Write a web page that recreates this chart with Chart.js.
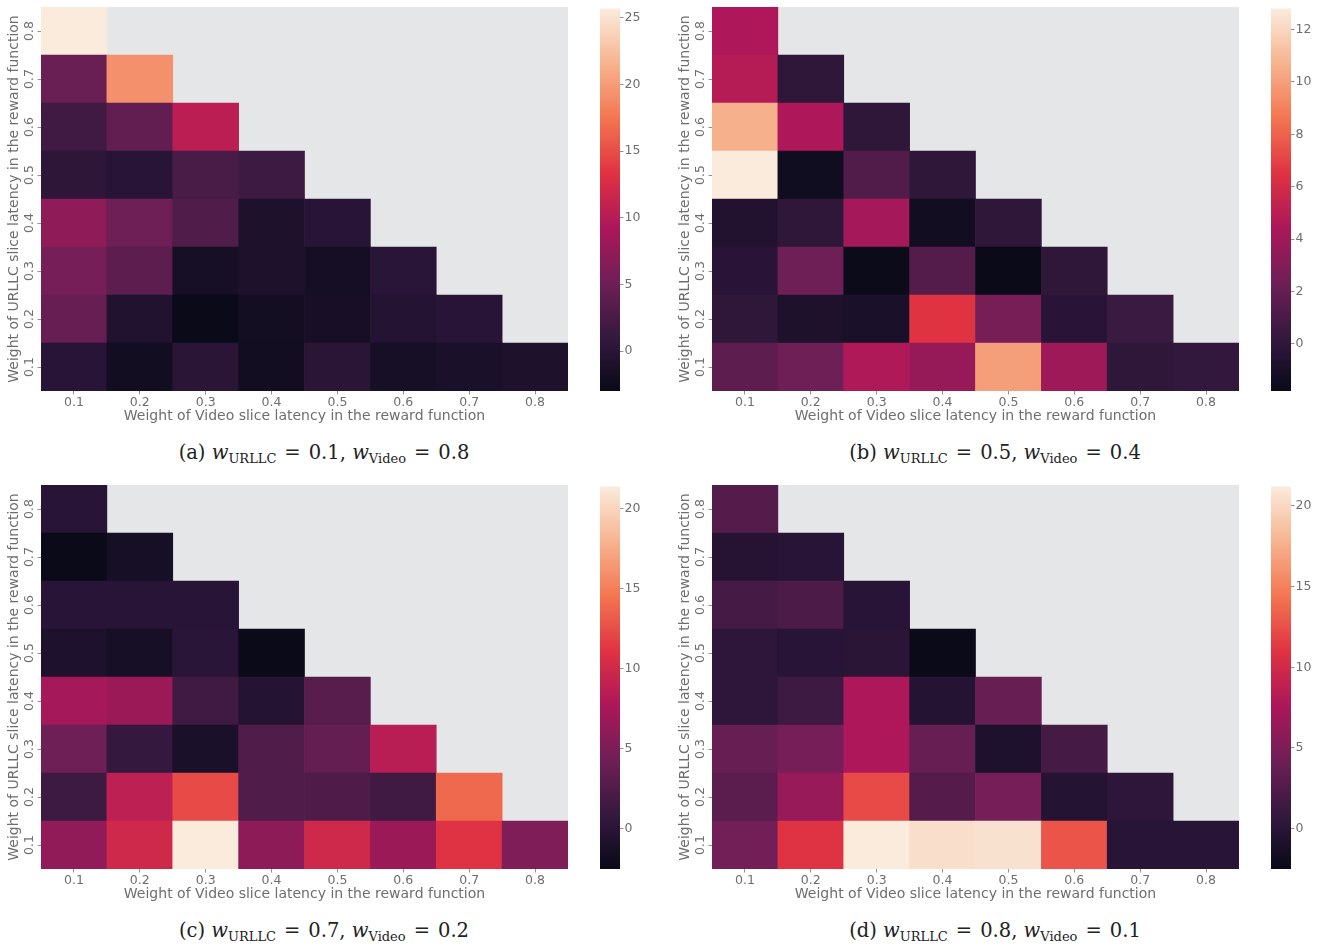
<!DOCTYPE html>
<html>
<head>
<meta charset="utf-8">
<script src="https://cdn.jsdelivr.net/npm/chart.js@4.4.1/dist/chart.umd.min.js"></script>
<style>
  body { margin: 0; background: #fff; width: 1325px; height: 948px; position: relative; overflow: hidden; }
  canvas { position: absolute; }
  .cap { position: absolute; font-family: "DejaVu Serif", "Liberation Serif", serif; font-size: 19.5px; color: #222;
         transform: translate(-50%, -50%); white-space: nowrap; }
  .cap sub { font-size: 13px; vertical-align: -4px; }
  .cap .eq { margin: 0 8px; }
</style>
</head>
<body>
<canvas id="heatA" width="590" height="430" style="left:0;top:0"></canvas>
<canvas id="cbA" width="70" height="430" style="left:590px;top:0"></canvas>
<canvas id="heatB" width="590" height="430" style="left:671px;top:0"></canvas>
<canvas id="cbB" width="70" height="430" style="left:1261px;top:0"></canvas>
<canvas id="heatC" width="590" height="430" style="left:0;top:478px"></canvas>
<canvas id="cbC" width="70" height="430" style="left:590px;top:478px"></canvas>
<canvas id="heatD" width="590" height="430" style="left:671px;top:478px"></canvas>
<canvas id="cbD" width="70" height="430" style="left:1261px;top:478px"></canvas>

<div class="cap" style="left:324px;top:453px">(a) <i>w</i><sub>URLLC</sub><span class="eq">=</span>0.1, <i>w</i><sub>Video</sub><span class="eq">=</span>0.8</div>
<div class="cap" style="left:995px;top:453px">(b) <i>w</i><sub>URLLC</sub><span class="eq">=</span>0.5, <i>w</i><sub>Video</sub><span class="eq">=</span>0.4</div>
<div class="cap" style="left:324px;top:931px">(c) <i>w</i><sub>URLLC</sub><span class="eq">=</span>0.7, <i>w</i><sub>Video</sub><span class="eq">=</span>0.2</div>
<div class="cap" style="left:995px;top:931px">(d) <i>w</i><sub>URLLC</sub><span class="eq">=</span>0.8, <i>w</i><sub>Video</sub><span class="eq">=</span>0.1</div>

<script>
const xLabels = ['0.1', '0.2', '0.3', '0.4', '0.5', '0.6', '0.7', '0.8'];
const yLabels = ['0.1', '0.2', '0.3', '0.4', '0.5', '0.6', '0.7', '0.8'];

// one row per URLLC weight, from 0.1 (bottom) up to 0.8 (top)
// rows get shorter because the upper triangle is masked
const panelA = [
    [-0.1, -2.0, 0.1, -2.1, 0.1, -1.7, -1.3, -1.0],
    [4.5, -0.7, -3.0, -1.9, -1.5, -0.4, -0.1],
    [5.6, 3.9, -1.6, -1.0, -1.8, 0.0],
    [7.3, 5.0, 3.0, -1.0, -0.1],
    [0.4, -0.1, 2.5, 1.6],
    [1.9, 4.2, 10.3],
    [4.7, 19.3],
    [25.7]
];
const panelB = [
    [1.7, 2.3, 4.6, 3.7, 10.0, 3.9, 0.0, 0.1],
    [0.0, -0.8, -0.9, 6.5, 2.6, -0.3, 0.5],
    [-0.3, 2.3, -1.7, 1.4, -1.8, 0.0],
    [-0.6, 0.0, 4.2, -1.3, 0.0],
    [12.8, -1.4, 1.3, 0.0],
    [10.6, 4.5, 0.0],
    [4.8, 0.0],
    [4.5]
];
const panelC = [
    [6.2, 9.9, 21.4, 5.9, 9.9, 6.8, 11.0, 5.2],
    [1.3, 8.8, 12.3, 2.5, 2.4, 1.6, 13.9],
    [4.2, 0.8, -1.1, 2.5, 3.7, 8.5],
    [7.3, 6.8, 1.6, -0.4, 3.0],
    [-0.8, -1.3, 0.0, -2.4],
    [-0.1, -0.1, -0.1],
    [-2.5, -1.3],
    [-0.1]
];
const panelD = [
    [4.4, 10.9, 21.2, 20.4, 20.6, 12.7, -0.1, -0.1],
    [3.0, 6.5, 12.2, 2.7, 4.6, -0.4, 0.3],
    [3.7, 4.6, 7.7, 3.7, -0.8, 1.8],
    [0.3, 1.3, 7.7, -0.4, 3.7],
    [0.3, -0.1, 0.0, -2.5],
    [1.8, 2.2, -0.1],
    [-0.25, -0.1],
    [2.7]
];

const cbTicksA = [0, 5, 10, 15, 20, 25];
const cbTicksB = [0, 2, 4, 6, 8, 10, 12];
const cbTicksC = [0, 5, 10, 15, 20];
const cbTicksD = [0, 5, 10, 15, 20];

const textGray = '#6e6e6e';
const tickGray = '#777';
const maskGray = '#e5e6e8';

// seaborn "rocket" colormap, a few stops
const rocketStops = [
    [0.0, [10, 10, 24]],
    [0.05, [23, 15, 38]],
    [0.1, [40, 20, 54]],
    [0.143, [53, 25, 62]],
    [0.286, [112, 31, 87]],
    [0.429, [173, 23, 89]],
    [0.571, [225, 51, 66]],
    [0.714, [243, 118, 81]],
    [0.857, [246, 180, 143]],
    [1.0, [250, 235, 221]]
];

function rocket(t) {
    t = Math.max(0, Math.min(1, t));
    for (let k = 1; k < rocketStops.length; k++) {
        const [t1, c1] = rocketStops[k];
        if (t <= t1) {
            const [t0, c0] = rocketStops[k - 1];
            const f = (t - t0) / (t1 - t0);
            const c = c0.map((v, i) => Math.round(v + (c1[i] - v) * f));
            return `rgb(${c[0]},${c[1]},${c[2]})`;
        }
    }
    return 'rgb(250,235,221)';
}

Chart.defaults.font.family = '"DejaVu Sans", sans-serif';
Chart.defaults.color = textGray;
Chart.defaults.animation = false;

const areaBg = {
    id: 'areaBg',
    beforeDraw(chart) {
        const { ctx, chartArea: a } = chart;
        ctx.save();
        ctx.fillStyle = maskGray;
        ctx.fillRect(a.left, a.top, a.right - a.left, a.bottom - a.top);
        ctx.restore();
    }
};

const gradientBar = {
    id: 'gradientBar',
    beforeDraw(chart) {
        const { ctx, chartArea: a } = chart;
        const g = ctx.createLinearGradient(0, a.bottom, 0, a.top);
        rocketStops.forEach(([t]) => g.addColorStop(t, rocket(t)));
        ctx.save();
        ctx.fillStyle = g;
        ctx.fillRect(a.left, a.top, a.right - a.left, a.bottom - a.top);
        ctx.restore();
    }
};

function tickGrid() {
    return {
        display: true,
        drawOnChartArea: false,
        drawTicks: true,
        tickLength: 3.5,
        tickWidth: 0.8,
        tickColor: tickGray,
        offset: false
    };
}

function drawHeatmap(id, rows) {
    const all = rows.flat();
    const vmin = Math.min(...all);
    const vmax = Math.max(...all);

    const datasets = rows.map((row, j) => ({
        data: xLabels.map((_, i) => i < row.length ? [j + 0.5, j + 1.5] : null),
        backgroundColor: xLabels.map((_, i) => i < row.length ? rocket((row[i] - vmin) / (vmax - vmin)) : 'rgba(0,0,0,0)'),
        borderWidth: 0,
        grouped: false,
        barPercentage: 1,
        categoryPercentage: 1
    }));

    new Chart(document.getElementById(id), {
        type: 'bar',
        data: { labels: xLabels, datasets: datasets },
        options: {
            responsive: false,
            layout: { padding: { left: 0, right: 22, top: 7, bottom: 0 } },
            plugins: { legend: { display: false }, tooltip: { enabled: false } },
            scales: {
                x: {
                    grid: tickGrid(),
                    border: { display: false },
                    ticks: { font: { size: 12.5 }, color: textGray, padding: 1, maxRotation: 0 },
                    title: {
                        display: true,
                        text: 'Weight of Video slice latency in the reward function',
                        font: { size: 14 },
                        color: textGray,
                        padding: { top: 0, bottom: 5 }
                    },
                    afterFit: s => { s.height = 39; }
                },
                y: {
                    type: 'linear',
                    min: 0.5,
                    max: 8.5,
                    afterBuildTicks: s => { s.ticks = yLabels.map((_, j) => ({ value: j + 1 })); },
                    grid: tickGrid(),
                    border: { display: false },
                    ticks: {
                        callback: v => yLabels[v - 1],
                        minRotation: 90,
                        maxRotation: 90,
                        crossAlign: 'center',
                        padding: -2,
                        font: { size: 12.5 },
                        color: textGray
                    },
                    title: {
                        display: true,
                        text: 'Weight of URLLC slice latency in the reward function',
                        font: { size: 14 },
                        color: textGray,
                        padding: { top: 6, bottom: 0 }
                    },
                    afterFit: s => { s.width = 41; }
                }
            }
        },
        plugins: [areaBg]
    });

    return { vmin, vmax };
}

function drawColorbar(id, range, tickValues) {
    new Chart(document.getElementById(id), {
        type: 'line',
        data: { labels: [], datasets: [] },
        options: {
            responsive: false,
            layout: { padding: { left: 10, right: 0, top: 7, bottom: 39 } },
            plugins: { legend: { display: false }, tooltip: { enabled: false } },
            scales: {
                x: { display: false },
                y: {
                    type: 'linear',
                    position: 'right',
                    min: range.vmin,
                    max: range.vmax,
                    afterBuildTicks: s => { s.ticks = tickValues.map(v => ({ value: v })); },
                    grid: tickGrid(),
                    border: { display: false },
                    ticks: { font: { size: 12.5 }, color: textGray, padding: 1 },
                    afterFit: s => { s.width = 40; }
                }
            }
        },
        plugins: [gradientBar]
    });
}

drawColorbar('cbA', drawHeatmap('heatA', panelA), cbTicksA);
drawColorbar('cbB', drawHeatmap('heatB', panelB), cbTicksB);
drawColorbar('cbC', drawHeatmap('heatC', panelC), cbTicksC);
drawColorbar('cbD', drawHeatmap('heatD', panelD), cbTicksD);
</script>
</body>
</html>
